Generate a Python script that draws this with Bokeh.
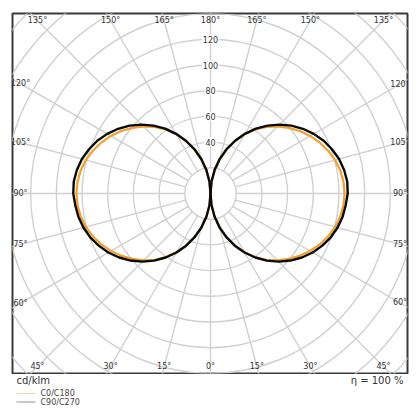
import math
from bokeh.plotting import figure
from bokeh.layouts import column
from bokeh.models import Range1d
from bokeh.core.properties import value
from bokeh.embed import file_html
from bokeh.resources import INLINE

# ---- data (cd/klm) ----
gamma_deg = [0, 5, 10, 15, 20, 25, 30, 35, 40, 45, 50, 55, 60, 65, 70, 75, 80, 85, 90,
             95, 100, 105, 110, 115, 120, 125, 130, 135, 140, 145, 150, 155, 160, 165, 170, 175, 180]
c0_c180 = [0, 9.2, 18.4, 27.4, 36.2, 44.6, 52.8, 60.4, 67.4, 73.6, 79.2, 84.6, 89.4, 93.8, 97.4,
           100.4, 102.6, 103.9, 104.3, 103.9, 102.6, 100.4, 97.4, 93.8, 89.6, 84.8, 79.4, 73.8,
           67.6, 60.8, 53.2, 45.0, 36.4, 27.6, 18.5, 9.3, 0]
c90_c270 = [0, 9.2, 18.4, 27.4, 36.2, 44.8, 53.0, 60.8, 68.2, 75.0, 81.2, 86.8, 91.8, 96.0, 99.6,
            102.4, 104.4, 105.6, 106.8, 106.8, 105.6, 103.6, 100.6, 97.2, 92.8, 87.8, 82.2, 75.8,
            69.0, 61.6, 53.6, 45.3, 36.7, 27.8, 18.7, 9.4, 0]
series_names = ["C0/C180", "C90/C270"]
radial_ticks = [40, 60, 80, 100, 120]
grid_radii = [20, 40, 60, 80, 100, 120, 140, 160, 180, 200, 220]
angle_ticks = [0, 15, 30, 45, 60, 75, 90, 105, 120, 135, 150, 165, 180]

# ---- layout constants ----
PX = 1.285                     # pixels per cd/klm
XL, XR = -198 / PX, 197 / PX   # frame extents in data units
YB, YT = -180 / PX, 180 / PX
FONT = value("DejaVu Sans")
OFF = 8                        # page offset

p = figure(width=404 + OFF, height=366 + OFF, x_range=Range1d(XL, XR), y_range=Range1d(YB, YT),
           output_backend="svg", toolbar_location=None,
           min_border_left=4 + OFF, min_border_right=5, min_border_top=5 + OFF, min_border_bottom=1)
p.axis.visible = False
p.grid.visible = False
p.outline_line_color = "#3a3a3a"
p.outline_line_width = 2
p.background_fill_color = "white"
p.border_fill_color = "white"

grid_col = "#d0d0d0"
# circles
p.circle(x=[0] * len(grid_radii), y=[0] * len(grid_radii), radius=grid_radii,
         fill_color=None, line_color=grid_col, line_width=1.4)
# spokes every 15 deg, starting at radius 20
sx0, sy0, sx1, sy1 = [], [], [], []
for k in range(24):
    a = math.radians(k * 15)
    sx0.append(20 * math.cos(a)); sy0.append(20 * math.sin(a))
    sx1.append(300 * math.cos(a)); sy1.append(300 * math.sin(a))
p.segment(x0=sx0, y0=sy0, x1=sx1, y1=sy1, line_color=grid_col, line_width=1.4)

# curves (gamma measured from downward vertical, both half planes)
def polar_xy(vals, side):
    xs = [side * v * math.sin(math.radians(g)) for g, v in zip(gamma_deg, vals)]
    ys = [-v * math.cos(math.radians(g)) for g, v in zip(gamma_deg, vals)]
    return xs, ys

for side in (-1, 1):
    xs, ys = polar_xy(c0_c180, side)
    p.line(xs, ys, line_color="#f0a030", line_width=2.2)
for side in (-1, 1):
    xs, ys = polar_xy(c90_c270, side)
    p.line(xs, ys, line_color="#0a0a0a", line_width=2.4)

# radial labels with white backing
p.text(x=[0] * len(radial_ticks), y=radial_ticks, text=[str(t) for t in radial_ticks],
       text_align="center", text_baseline="middle", text_font=FONT, text_font_size="8px",
       text_color="#333333", background_fill_color="white", padding=1)

# angle labels at intersection of spokes with an inset rectangle
ix0, ix1 = XL + 8 / PX, XR - 7.5 / PX
iy0, iy1 = YB + 7 / PX, YT - 7 / PX
lx, ly, lt = [], [], []
for side in (-1, 1):
    for g in angle_ticks:
        if side == 1 and g in (0, 180):
            continue
        dx = side * math.sin(math.radians(g))
        dy = -math.cos(math.radians(g))
        ts = []
        if dx > 1e-9: ts.append(ix1 / dx)
        if dx < -1e-9: ts.append(ix0 / dx)
        if dy > 1e-9: ts.append(iy1 / dy)
        if dy < -1e-9: ts.append(iy0 / dy)
        t = min(ts)
        lx.append(t * dx); ly.append(t * dy); lt.append(f"{g}°")
p.text(x=lx, y=ly, text=lt, text_align="center", text_baseline="middle",
       text_font=FONT, text_font_size="8px", text_color="#333333")

# ---- strip below: unit, efficiency, legend (frame aligned to the plot frame: page px 12..407) ----
q = figure(width=404 + OFF, height=38, x_range=Range1d(12, 407), y_range=Range1d(38, 0),
           output_backend="svg", toolbar_location=None,
           min_border_left=4 + OFF, min_border_right=5, min_border_top=0, min_border_bottom=0)
q.axis.visible = False
q.grid.visible = False
q.outline_line_color = None
q.text(x=[16], y=[6], text=["cd/klm"], text_align="left", text_baseline="middle",
       text_font=FONT, text_font_size="10px", text_color="#333333")
q.text(x=[403], y=[6], text=["η = 100 %"], text_align="right", text_baseline="middle",
       text_font=FONT, text_font_size="10px", text_color="#333333")
leg_cols = ["#f3d3a4", "#8c919a"]
for i, (name, col) in enumerate(zip(series_names, leg_cols)):
    yy = 19 + i * 8.5
    q.line([16, 35], [yy, yy], line_color=col, line_width=1.2)
    q.text(x=[40], y=[yy], text=[name], text_align="left", text_baseline="middle",
           text_font=FONT, text_font_size="8px", text_color="#444444")

layout = column(p, q, spacing=0)
open("out.html", "w").write(file_html(layout, INLINE))
